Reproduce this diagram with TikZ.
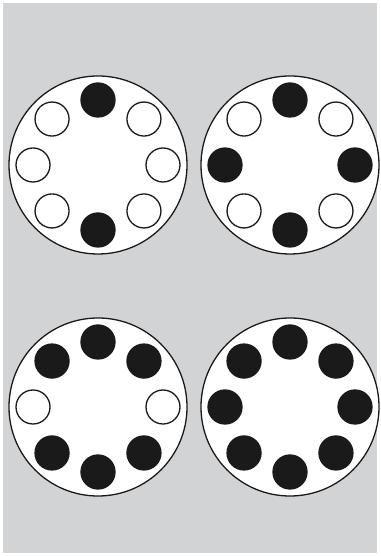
\documentclass[tikz,border=0pt]{standalone}
\definecolor{mPlate}{HTML}{D2D3D5}
\definecolor{mInk}{HTML}{1A1A1A}
\usepackage{tikz}
\usetikzlibrary{positioning}

\begin{document}
\begin{tikzpicture}[x=1pt, y=1pt,
  disc/.style={draw=mInk, circle, fill=white, line width=1.3pt, minimum size=178pt, inner sep=0pt},
  hole/.style={draw=mInk, circle, fill=white, line width=1.3pt, minimum size=34pt, inner sep=0pt},
  ball/.style={draw=mInk, circle, fill=mInk, line width=1.3pt, minimum size=34pt, inner sep=0pt}]
\useasboundingbox (0,0) rectangle (380,556);
\fill[mPlate] (3,3) rectangle (377,553);
\node[disc] (A) at (98,391) {};
\node[disc] (B) at (290,391) {};
\node[disc] (C) at (98,149) {};
\node[disc] (D) at (290,149) {};
% two filled: top and bottom
\foreach \a in {90,270} \node[ball] (A-\a) at ([shift={(\a:65)}]A) {};
\foreach \a in {0,45,135,180,225,315} \node[hole] (A-\a) at ([shift={(\a:65)}]A) {};
% four filled: top, bottom, left, right
\foreach \a in {0,90,180,270} \node[ball] (B-\a) at ([shift={(\a:65)}]B) {};
\foreach \a in {45,135,225,315} \node[hole] (B-\a) at ([shift={(\a:65)}]B) {};
% six filled
\foreach \a in {45,90,135,225,270,315} \node[ball] (C-\a) at ([shift={(\a:65)}]C) {};
\foreach \a in {0,180} \node[hole] (C-\a) at ([shift={(\a:65)}]C) {};
% all eight filled
\foreach \a in {0,45,...,315} \node[ball] (D-\a) at ([shift={(\a:65)}]D) {};
\end{tikzpicture}
\end{document}
